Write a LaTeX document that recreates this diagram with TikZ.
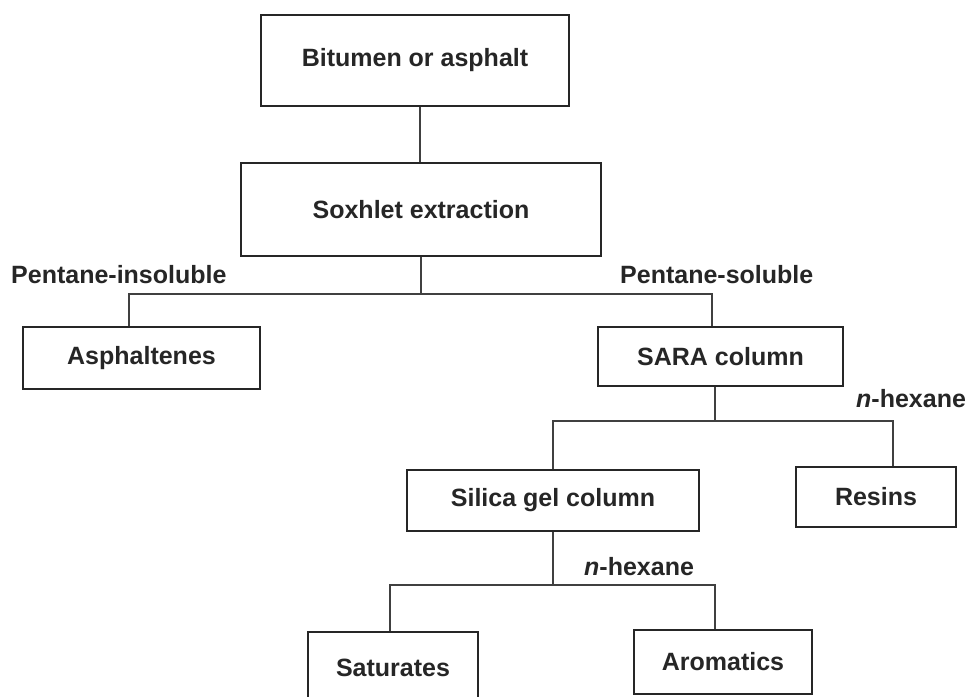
\documentclass[tikz,border=0pt]{standalone}
\usepackage{fontspec}
\setmainfont{Liberation Sans}
\begin{document}
\begin{tikzpicture}[x=1pt,y=-1pt,
  box/.style={draw=black!85,line width=2.8pt,rectangle,inner sep=0pt,font=\fontsize{25}{30}\selectfont\bfseries,text=black!85},
  lbl/.style={inner sep=0pt,font=\fontsize{25}{30}\selectfont\bfseries,text=black!85},
  conn/.style={draw=black!75,line width=2.6pt}]
\clip (0,0) rectangle (969,696);
\fill[white] (0,0) rectangle (969,696);
\node[box,minimum width=308pt,minimum height=91pt] (bit) at (415,60.5) {Bitumen or asphalt};
\node[box,minimum width=360pt,minimum height=93pt] (sox) at (421,209.5) {Soxhlet extraction};
\node[box,minimum width=237pt,minimum height=62pt] (asph) at (141.5,358) {Asphaltenes};
\node[box,minimum width=245pt,minimum height=59pt] (sara) at (720.5,356.5) {SARA column};
\node[box,minimum width=292pt,minimum height=61pt] (sil) at (553,500.5) {Silica gel column};
\node[box,minimum width=160pt,minimum height=60pt] (res) at (876,497) {Resins};
\node[box,minimum width=170pt,minimum height=76pt] (sat) at (393,670) {};
\node[lbl] (sattxt) at (393,668) {Saturates};
\node[box,minimum width=178pt,minimum height=64pt] (aro) at (723,662) {Aromatics};
\node[lbl,anchor=west] (pins) at (11,275) {Pentane-insoluble};
\node[lbl,anchor=west] (psol) at (620,275) {Pentane-soluble};
\node[lbl,anchor=west] (hex1) at (856,399) {\textit{n}-hexane};
\node[lbl,anchor=west] (hex2) at (584,567) {\textit{n}-hexane};
% connectors
\coordinate (j1) at (421,294);
\coordinate (j1l) at (129,294);
\coordinate (j1r) at (712,294);
\coordinate (j2) at (715,421);
\coordinate (j2l) at (553,421);
\coordinate (j2r) at (893,421);
\coordinate (j3) at (553,585);
\coordinate (j3l) at (390,585);
\coordinate (j3r) at (715,585);
\draw[conn] (bit.south -| 420,0) -- (sox.north -| 420,0);
\draw[conn] (sox.south -| j1) -- (j1);
\draw[conn] (j1l |- asph.north) -- (j1l) -- (j1r) -- (j1r |- sara.north);
\draw[conn] (sara.south -| j2) -- (j2);
\draw[conn] (j2l |- sil.north) -- (j2l) -- (j2r) -- (j2r |- res.north);
\draw[conn] (sil.south -| j3) -- (j3);
\draw[conn] (j3l |- sat.north) -- (j3l) -- (j3r) -- (j3r |- aro.north);
\end{tikzpicture}
\end{document}
